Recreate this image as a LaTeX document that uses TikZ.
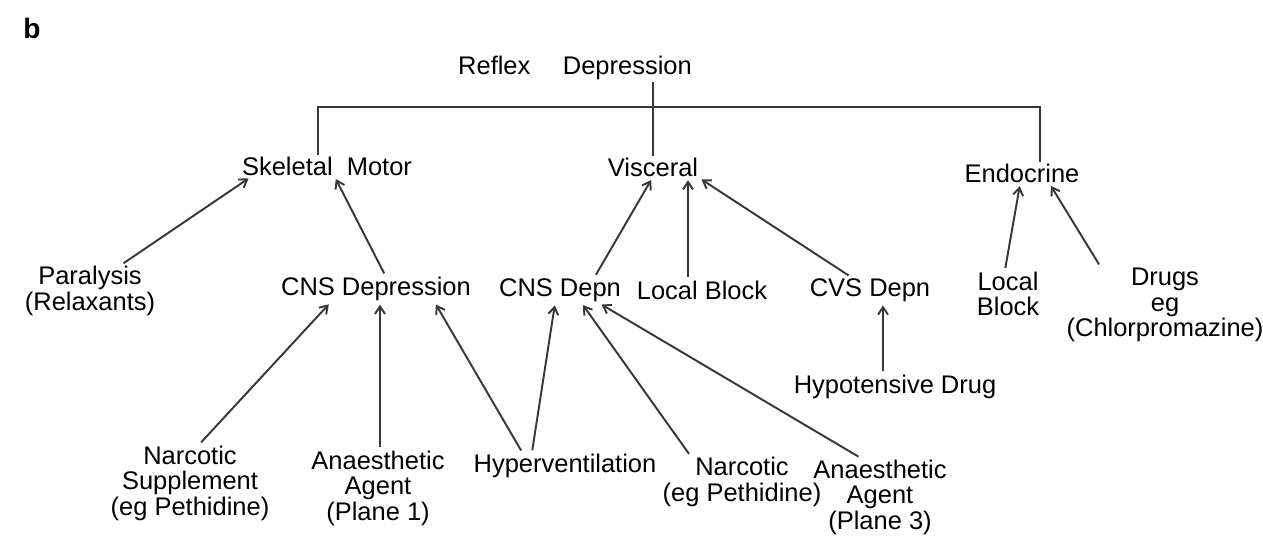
\documentclass[tikz,border=0pt]{standalone}
\usepackage{fontspec}
\setmainfont{Liberation Sans}
\usetikzlibrary{arrows.meta}
\definecolor{pencil}{RGB}{55,55,55}
\tikzset{
  >={Straight Barb[length=1.5mm,width=2mm]},
  term/.style={font=\fontsize{14.5}{14.5}\selectfont,align=center,inner sep=1pt,text=black},
  tree/.style={draw=pencil,line width=1.5pt},
  feed/.style={->,draw=pencil,line width=1.1pt,shorten <=1pt,shorten >=1pt},
}
\begin{document}
\begin{tikzpicture}[x=0.02cm,y=-0.02cm]
  \useasboundingbox (0,0) rectangle (1263,553);
  % heading and top level
  \node[term,font=\fontsize{16}{16}\selectfont\bfseries] (tag) at (32,28) {b};
  \node[term] (refl) at (575,68) {Reflex\quad\ Depression};
  \node[term] (skel) at (327,166) {Skeletal\ \ Motor};
  \node[term] (visc) at (653,167) {Visceral};
  \node[term] (endo) at (1022,173) {Endocrine};
  \coordinate (bar) at (652,107);
  \draw[tree] ([xshift=-0.18cm]skel.north) |- (bar) -| ([xshift=0.36cm]endo.north);
  \draw[tree] (refl.south -| visc.north) -- (visc.north);
  % second level
  \node[term] (para) at (90,291) {Paralysis\\(Relaxants)};
  \node[term] (cnsd) at (376,289) {CNS Depression};
  \node[term] (cnsn) at (560,290) {CNS Depn};
  \node[term] (lblk) at (702,290) {Local Block};
  \node[term] (cvsd) at (870,290) {CVS Depn};
  \node[term] (lblk2) at (1008,294) {Local\\Block};
  \node[term] (drug) at (1165,305) {Drugs\\eg\\(Chlorpromazine)};
  % third level
  \node[term] (hypo) at (895,387) {Hypotensive Drug};
  \node[term] (narcs) at (190,483) {Narcotic\\Supplement\\(eg Pethidine)};
  \node[term] (anae1) at (378,488) {Anaesthetic\\Agent\\(Plane 1)};
  \node[term] (hyper) at (565,466) {Hyperventilation};
  \node[term] (narc) at (742,482) {Narcotic\\(eg Pethidine)};
  \node[term] (anae3) at (880,497) {Anaesthetic\\Agent\\(Plane 3)};
  % arrows
  \draw[feed] (para.north -| 122,0) -- (skel.south -| 250,0);
  \draw[feed] (cnsd.north -| 385,0) -- (skel.south -| 335,0);
  \draw[feed] (cnsn.north -| 595,0) -- (visc.south -| 652,0);
  \draw[feed] (lblk.north -| 688,0) -- (visc.south -| 688,0);
  \draw[feed] (cvsd.north -| 850,0) -- (visc.south -| 700,0);
  \draw[feed] (lblk2.north -| 1005,0) -- (endo.south -| 1020,0);
  \draw[feed] (drug.north -| 1100,0) -- (endo.south -| 1050,0);
  \draw[feed] (hypo.north -| 883,0) -- (cvsd.south -| 883,0);
  \draw[feed] (narcs.north -| 200,0) -- (cnsd.south -| 330,0);
  \draw[feed] (anae1.north -| 380,0) -- (cnsd.south -| 380,0);
  \draw[feed] (hyper.north -| 522,0) -- (cnsd.south -| 435,0);
  \draw[feed] (hyper.north -| 532,0) -- (cnsn.south -| 555,0);
  \draw[feed] (narc.north -| 690,0) -- (cnsn.south -| 582,0);
  \draw[feed] (anae3.north -| 860,0) -- (cnsn.south -| 600,0);
\end{tikzpicture}
\end{document}
